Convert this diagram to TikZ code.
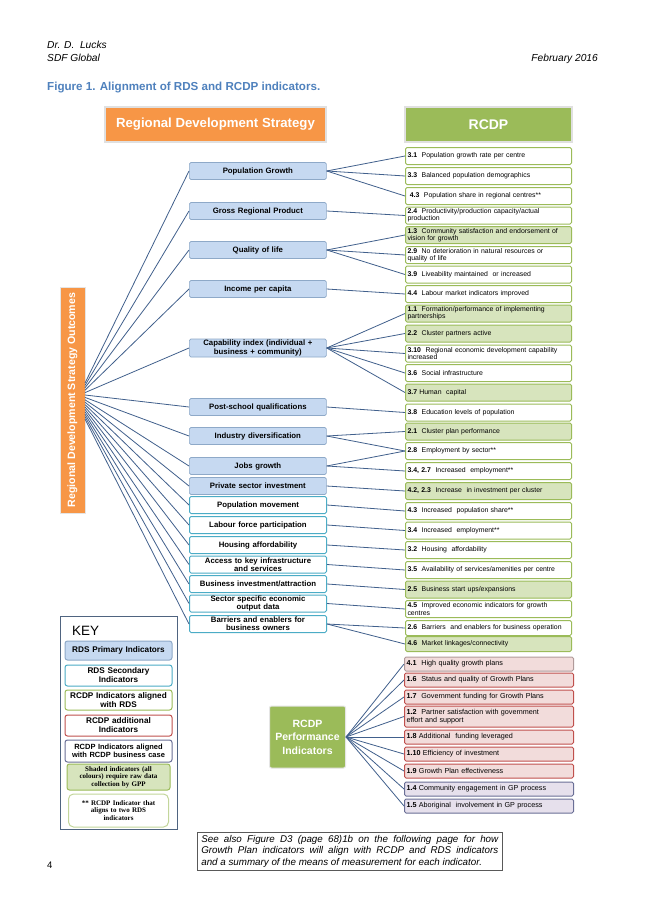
\documentclass[tikz,border=0pt]{standalone}
\usepackage{fontspec}
\setmainfont{Liberation Sans}
\newfontfamily\keyserif{Liberation Serif}
\definecolor{orangeT}{HTML}{F79646}
\definecolor{greenT}{HTML}{9BBB59}
\definecolor{blueF}{HTML}{C6D9F1}
\definecolor{blueD}{HTML}{8EA9C8}
\definecolor{tealC}{HTML}{4BACC6}
\definecolor{greenS}{HTML}{D7E4BD}
\definecolor{pinkF}{HTML}{F2DCDB}
\definecolor{redD}{HTML}{C0504D}
\definecolor{grayR}{HTML}{B09A9A}
\definecolor{lavF}{HTML}{E6E0EC}
\definecolor{purD}{HTML}{6A6F96}
\definecolor{lineC}{HTML}{41608C}
\definecolor{figblue}{HTML}{4F81BD}
\definecolor{keyD}{HTML}{4F6480}
\definecolor{yellowG}{HTML}{C3D69B}
\tikzset{
 lbox/.style={anchor=west, minimum width=137pt, minimum height=17pt, inner xsep=1pt, inner ysep=0pt, text width=135pt, align=center, font=\fontsize{7.8}{8.4}\selectfont\bfseries, rounded corners=1.5pt},
 prim/.style={lbox, fill=blueF, draw=blueD, line width=0.7pt},
 sec/.style={lbox, fill=white, draw=tealC, line width=1pt},
 rbox/.style={anchor=west, minimum width=166pt, minimum height=17pt, inner xsep=2pt, inner ysep=0pt, text width=162pt, align=left, font=\fontsize{6.9}{7.1}\selectfont, rounded corners=1.5pt, draw=greenT, line width=1pt, fill=white},
 shd/.style={fill=greenS},
 pbox/.style={anchor=west, minimum width=169pt, minimum height=14pt, inner xsep=2pt, inner ysep=0pt, text width=165pt, align=left, font=\fontsize{7.2}{8}\selectfont, rounded corners=1.5pt, draw=redD, line width=1pt, fill=pinkF},
 lav/.style={fill=lavF, draw=purD},
 conn/.style={draw=lineC, line width=0.8pt},
 kbox/.style={minimum width=107pt, text width=105pt, inner xsep=1pt, inner ysep=0pt, align=center, rounded corners=2.5pt, font=\fontsize{8.2}{9}\selectfont\bfseries, line width=1pt},
 title/.style={minimum height=35pt, text=white, draw=black!12, line width=1.2pt, font=\fontsize{13.2}{15}\selectfont\bfseries},
 hdr/.style={inner sep=0pt, font=\fontsize{10.2}{12}\selectfont\itshape}
}
\begin{document}
\begin{tikzpicture}[x=1pt,y=-1pt]
\useasboundingbox (0,0) rectangle (653,923);
\fill[white] (0,0) rectangle (653,923);
% header
\node[hdr, anchor=base west] (auth) at (47,49) {Dr. D.\ \ Lucks};
\node[hdr, anchor=base west] (org) at (47,62) {SDF Global};
\node[hdr, anchor=base east] (date) at (598,62) {February 2016};
\node[anchor=base west, inner sep=0pt, font=\fontsize{11.6}{13}\selectfont\bfseries, text=figblue] (fig) at (47,91) {Figure 1. Alignment of RDS and RCDP indicators.};
% titles
\node[title, fill=orangeT, minimum width=221pt] (rdst) at (215.5,124.5) {Regional Development Strategy};
\node[title, fill=greenT, minimum width=167pt, font=\fontsize{14}{16}\selectfont\bfseries] (rcdpt) at (488.5,124.5) {RCDP};
% vertical outcomes box
\node[fill=orangeT, draw=black!10, line width=1pt, rotate=90, minimum width=226pt, minimum height=25pt, inner sep=0pt, text=white, font=\fontsize{10.6}{12}\selectfont\bfseries] (outc) at (72.5,400) {Regional Development Strategy Outcomes};
% left boxes
\node[prim] (l1) at (189,171) {Population Growth};
\node[prim] (l2) at (189,211) {Gross Regional Product};
\node[prim] (l3) at (189,250) {Quality of life};
\node[prim] (l4) at (189,289) {Income per capita};
\node[prim, minimum height=18pt] (l5) at (189,348) {Capability index (individual +\\business + community)};
\node[prim] (l6) at (189,407) {Post-school qualifications};
\node[prim] (l7) at (189,436) {Industry diversification};
\node[prim] (l8) at (189,466) {Jobs growth};
\node[prim] (l9) at (189,486) {Private sector investment};
\node[sec] (l10) at (189,505) {Population movement};
\node[sec] (l11) at (189,525) {Labour force participation};
\node[sec] (l12) at (189,545) {Housing affordability};
\node[sec] (l13) at (189,564.5) {Access to key infrastructure\\and services};
\node[sec] (l14) at (189,584) {Business investment/attraction};
\node[sec] (l15) at (189,603.5) {Sector specific economic\\output data};
\node[sec] (l16) at (189,624) {Barriers and enablers for\\business owners};
% right boxes
\node[rbox] (r1) at (405,156) {\textbf{3.1}\ \ Population growth rate per centre};
\node[rbox] (r2) at (405,176) {\textbf{3.3}\ \ Balanced population demographics};
\node[rbox] (r3) at (405,196) {\ \textbf{4.3}\ \ Population share in regional centres**};
\node[rbox] (r4) at (405,215.5) {\textbf{2.4}\ \ Productivity/production capacity/actual\\production};
\node[rbox, shd] (r5) at (405,235) {\textbf{1.3}\ \ Community satisfaction and endorsement of\\vision for growth};
\node[rbox] (r6) at (405,255) {\textbf{2.9}\ \ No deterioration in natural resources or\\quality of life};
\node[rbox] (r7) at (405,274.5) {\textbf{3.9}\ \ Liveability maintained\ \ or increased};
\node[rbox] (r8) at (405,294) {\textbf{4.4}\ \ Labour market indicators improved};
\node[rbox, shd] (r9) at (405,313.5) {\textbf{1.1}\ \ Formation/performance of implementing\\partnerships};
\node[rbox, shd] (r10) at (405,333.5) {\textbf{2.2}\ \ Cluster partners active};
\node[rbox] (r11) at (405,353.5) {\textbf{3.10}\ \ Regional economic development capability\\increased};
\node[rbox] (r12) at (405,373) {\textbf{3.6}\ \ Social infrastructure};
\node[rbox, shd] (r13) at (405,392.5) {\textbf{3.7} Human\ \ capital};
\node[rbox] (r14) at (405,412.5) {\textbf{3.8}\ \ Education levels of population};
\node[rbox, shd] (r15) at (405,431.5) {\textbf{2.1}\ \ Cluster plan performance};
\node[rbox] (r16) at (405,451) {\textbf{2.8}\ \ Employment by sector**};
\node[rbox] (r17) at (405,471) {\textbf{3.4, 2.7}\ \ Increased\ \ employment**};
\node[rbox, shd] (r18) at (405,491) {\textbf{4.2, 2.3}\ \ Increase\ \ in investment per cluster};
\node[rbox] (r19) at (405,511) {\textbf{4.3}\ \ Increased\ \ population share**};
\node[rbox] (r20) at (405,530.5) {\textbf{3.4}\ \ Increased\ \ employment**};
\node[rbox] (r21) at (405,550) {\textbf{3.2}\ \ Housing\ \ affordability};
\node[rbox] (r22) at (405,570) {\textbf{3.5}\ \ Availability of services/amenities per centre};
\node[rbox, shd] (r23) at (405,589.5) {\textbf{2.5}\ \ Business start ups/expansions};
\node[rbox] (r24) at (405,609) {\textbf{4.5}\ \ Improved economic indicators for growth\\centres};
\node[rbox, minimum height=15pt] (r25) at (405,628) {\textbf{2.6}\ \ Barriers\ \ and enablers for business operation};
\node[rbox, shd, minimum height=15pt] (r26) at (405,644) {\textbf{4.6}\ \ Market linkages/connectivity};
% performance indicators
\node[fill=greenT, draw=black!10, line width=1pt, rounded corners=2pt, minimum width=76pt, minimum height=62pt, inner sep=0pt, text=white, align=center, font=\fontsize{10.5}{13.5}\selectfont\bfseries] (perf) at (307.5,737) {RCDP\\Performance\\Indicators};
\node[pbox, draw=grayR] (p1) at (404,664) {\textbf{4.1}\ \ High quality growth plans};
\node[pbox] (p2) at (404,680) {\textbf{1.6}\ \ Status and quality of Growth Plans};
\node[pbox] (p3) at (404,697) {\textbf{1.7}\ \ Government funding for Growth Plans};
\node[pbox, minimum height=21pt] (p4) at (404,716.5) {\textbf{1.2}\ \ Partner satisfaction with government\\effort and support};
\node[pbox] (p5) at (404,737) {\textbf{1.8} Additional\ \ funding leveraged};
\node[pbox] (p6) at (404,754) {\textbf{1.10} Efficiency of investment};
\node[pbox] (p7) at (404,771) {\textbf{1.9} Growth Plan effectiveness};
\node[pbox, lav] (p8) at (404,789) {\textbf{1.4} Community engagement in GP process};
\node[pbox, lav] (p9) at (404,806) {\textbf{1.5} Aboriginal\ \ involvement in GP process};
% connectors from outcomes box
\foreach \i in {1,...,16} {
  \coordinate (o\i) at (85,{383+(\i-1)*2.4});
}
\foreach \i in {1,...,16} {
  \draw[conn] (o\i) -- (l\i.west);
}
% connectors left -> right
\foreach \a/\b in {l1/r1,l1/r2,l1/r3,l2/r4,l3/r5,l3/r6,l3/r7,l4/r8,l5/r9,l5/r10,l5/r11,l5/r12,l5/r13,l6/r14,l7/r15,l7/r16,l8/r16,l8/r17,l9/r18,l10/r19,l11/r20,l12/r21,l13/r22,l14/r23,l15/r24,l16/r25,l16/r26} {
  \draw[conn] (\a.east) -- (\b.west);
}
% performance connectors
\foreach \i in {1,...,9} {
  \draw[conn] (perf.east) -- (p\i.west);
}
% KEY
\node[draw=keyD, line width=1pt, minimum width=117pt, minimum height=213pt, inner sep=0pt] (keyb) at (118.5,722.5) {};
\node[anchor=west, inner sep=0pt, font=\fontsize{13.5}{15}\selectfont] (keyt) at (72,631) {KEY};
\node[kbox, fill=blueF, draw=blueD, minimum height=19pt] (k1) at (118.5,650.5) {RDS Primary Indicators};
\node[kbox, fill=white, draw=tealC, minimum height=21pt] (k2) at (118.5,675.5) {RDS Secondary\\Indicators};
\node[kbox, fill=white, draw=greenT, minimum height=20pt] (k3) at (118.5,700) {RCDP Indicators aligned\\with RDS};
\node[kbox, fill=white, draw=redD, minimum height=21pt] (k4) at (118.5,725.5) {RCDP additional\\Indicators};
\node[kbox, fill=white, draw=purD, minimum height=22pt, font=\fontsize{7.5}{8.4}\selectfont\bfseries] (k5) at (118.5,751) {RCDP Indicators aligned\\with RCDP business case};
\node[kbox, fill=greenS, draw=greenT, minimum width=103pt, text width=101pt, minimum height=26pt, font=\keyserif\fontsize{7}{7.6}\selectfont\bfseries] (k6) at (118.5,777) {Shaded indicators (all\\colours) require raw data\\collection by GPP};
\node[kbox, fill=white, draw=yellowG, rounded corners=5pt, minimum width=100pt, text width=98pt, minimum height=33pt, font=\keyserif\fontsize{7}{7.8}\selectfont\bfseries] (k7) at (118.5,810.5) {** RCDP Indicator that\\aligns to two RDS\\indicators};
% note and page number
\node[draw=black!65, line width=0.6pt, anchor=north west, text width=297pt, inner xsep=4pt, inner ysep=3pt, align=justify, font=\fontsize{9.8}{11.5}\selectfont\itshape] (note) at (197,832) {See also Figure D3 (page 68)1b on the following page for how\linebreak Growth Plan indicators will align with RCDP and RDS indicators\linebreak and a summary of the means of measurement for each indicator.};
\node[anchor=base west, inner sep=0pt, font=\fontsize{9.5}{11}\selectfont] (pnum) at (47,868) {4};
\end{tikzpicture}
\end{document}
